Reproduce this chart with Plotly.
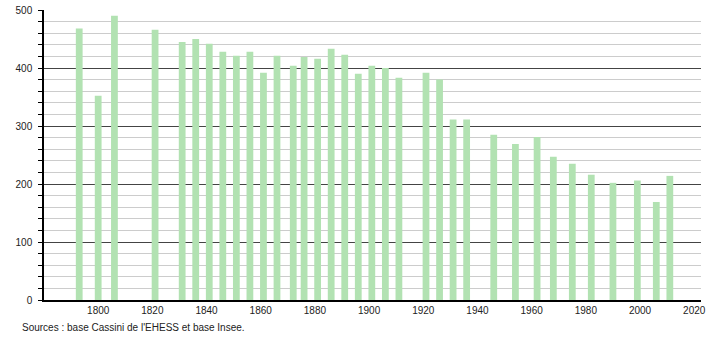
import plotly.graph_objects as go

years = [1793, 1800, 1806, 1821, 1831, 1836, 1841, 1846, 1851, 1856, 1861, 1866,
         1872, 1876, 1881, 1886, 1891, 1896, 1901, 1906, 1911, 1921, 1926, 1931,
         1936, 1946, 1954, 1962, 1968, 1975, 1982, 1990, 1999, 2006, 2011]
population = [468, 352, 490, 466, 445, 450, 442, 428, 421, 428, 392, 421,
              404, 419, 416, 433, 423, 390, 404, 400, 383, 392, 380, 311,
              311, 285, 269, 281, 247, 235, 216, 202, 206, 169, 214]

x_ticks = [1800, 1820, 1840, 1860, 1880, 1900, 1920, 1940, 1960, 1980, 2000, 2020]
y_ticks = [0, 100, 200, 300, 400, 500]
source_text = "Sources : base Cassini de l'EHESS et base Insee."

font = "Liberation Sans, Arial, sans-serif"

fig = go.Figure()
fig.add_trace(go.Bar(
    x=years, y=population, width=2.5,
    marker=dict(color="rgb(178,226,178)", line=dict(width=0)),
))

fig.update_layout(
    width=710, height=340,
    margin=dict(l=44, r=9, t=10, b=40, autoexpand=False),
    paper_bgcolor="white", plot_bgcolor="white",
    showlegend=False,
    font=dict(family=font, size=10, color="#222"),
    xaxis=dict(
        range=[1780, 2022.5], tickvals=x_ticks, ticktext=[str(v) for v in x_ticks],
        showgrid=False, zeroline=False, showline=True, linecolor="black", linewidth=1.5,
        ticks="", tickfont=dict(size=10, family=font, color="#222"), automargin=False,
    ),
    yaxis=dict(
        range=[0, 500], tickvals=y_ticks, showgrid=True, gridcolor="#444", gridwidth=1,
        zeroline=False, showline=True, linecolor="black", linewidth=1.5,
        ticks="outside", ticklen=4, tickcolor="black", automargin=False,
        ticklabelstandoff=4,
        tickfont=dict(size=10, family=font, color="#222"),
        minor=dict(dtick=20, tick0=0, showgrid=True, gridcolor="#cccccc", gridwidth=1,
                   ticks="outside", ticklen=4, tickcolor="black"),
    ),
    annotations=[dict(
        text=source_text, xref="paper", yref="paper",
        x=(20 - 44) / 657, y=-27 / 290, xanchor="left", yanchor="middle",
        showarrow=False, font=dict(size=10, family=font, color="#222"),
    )],
)

fig.write_html("out.html")
